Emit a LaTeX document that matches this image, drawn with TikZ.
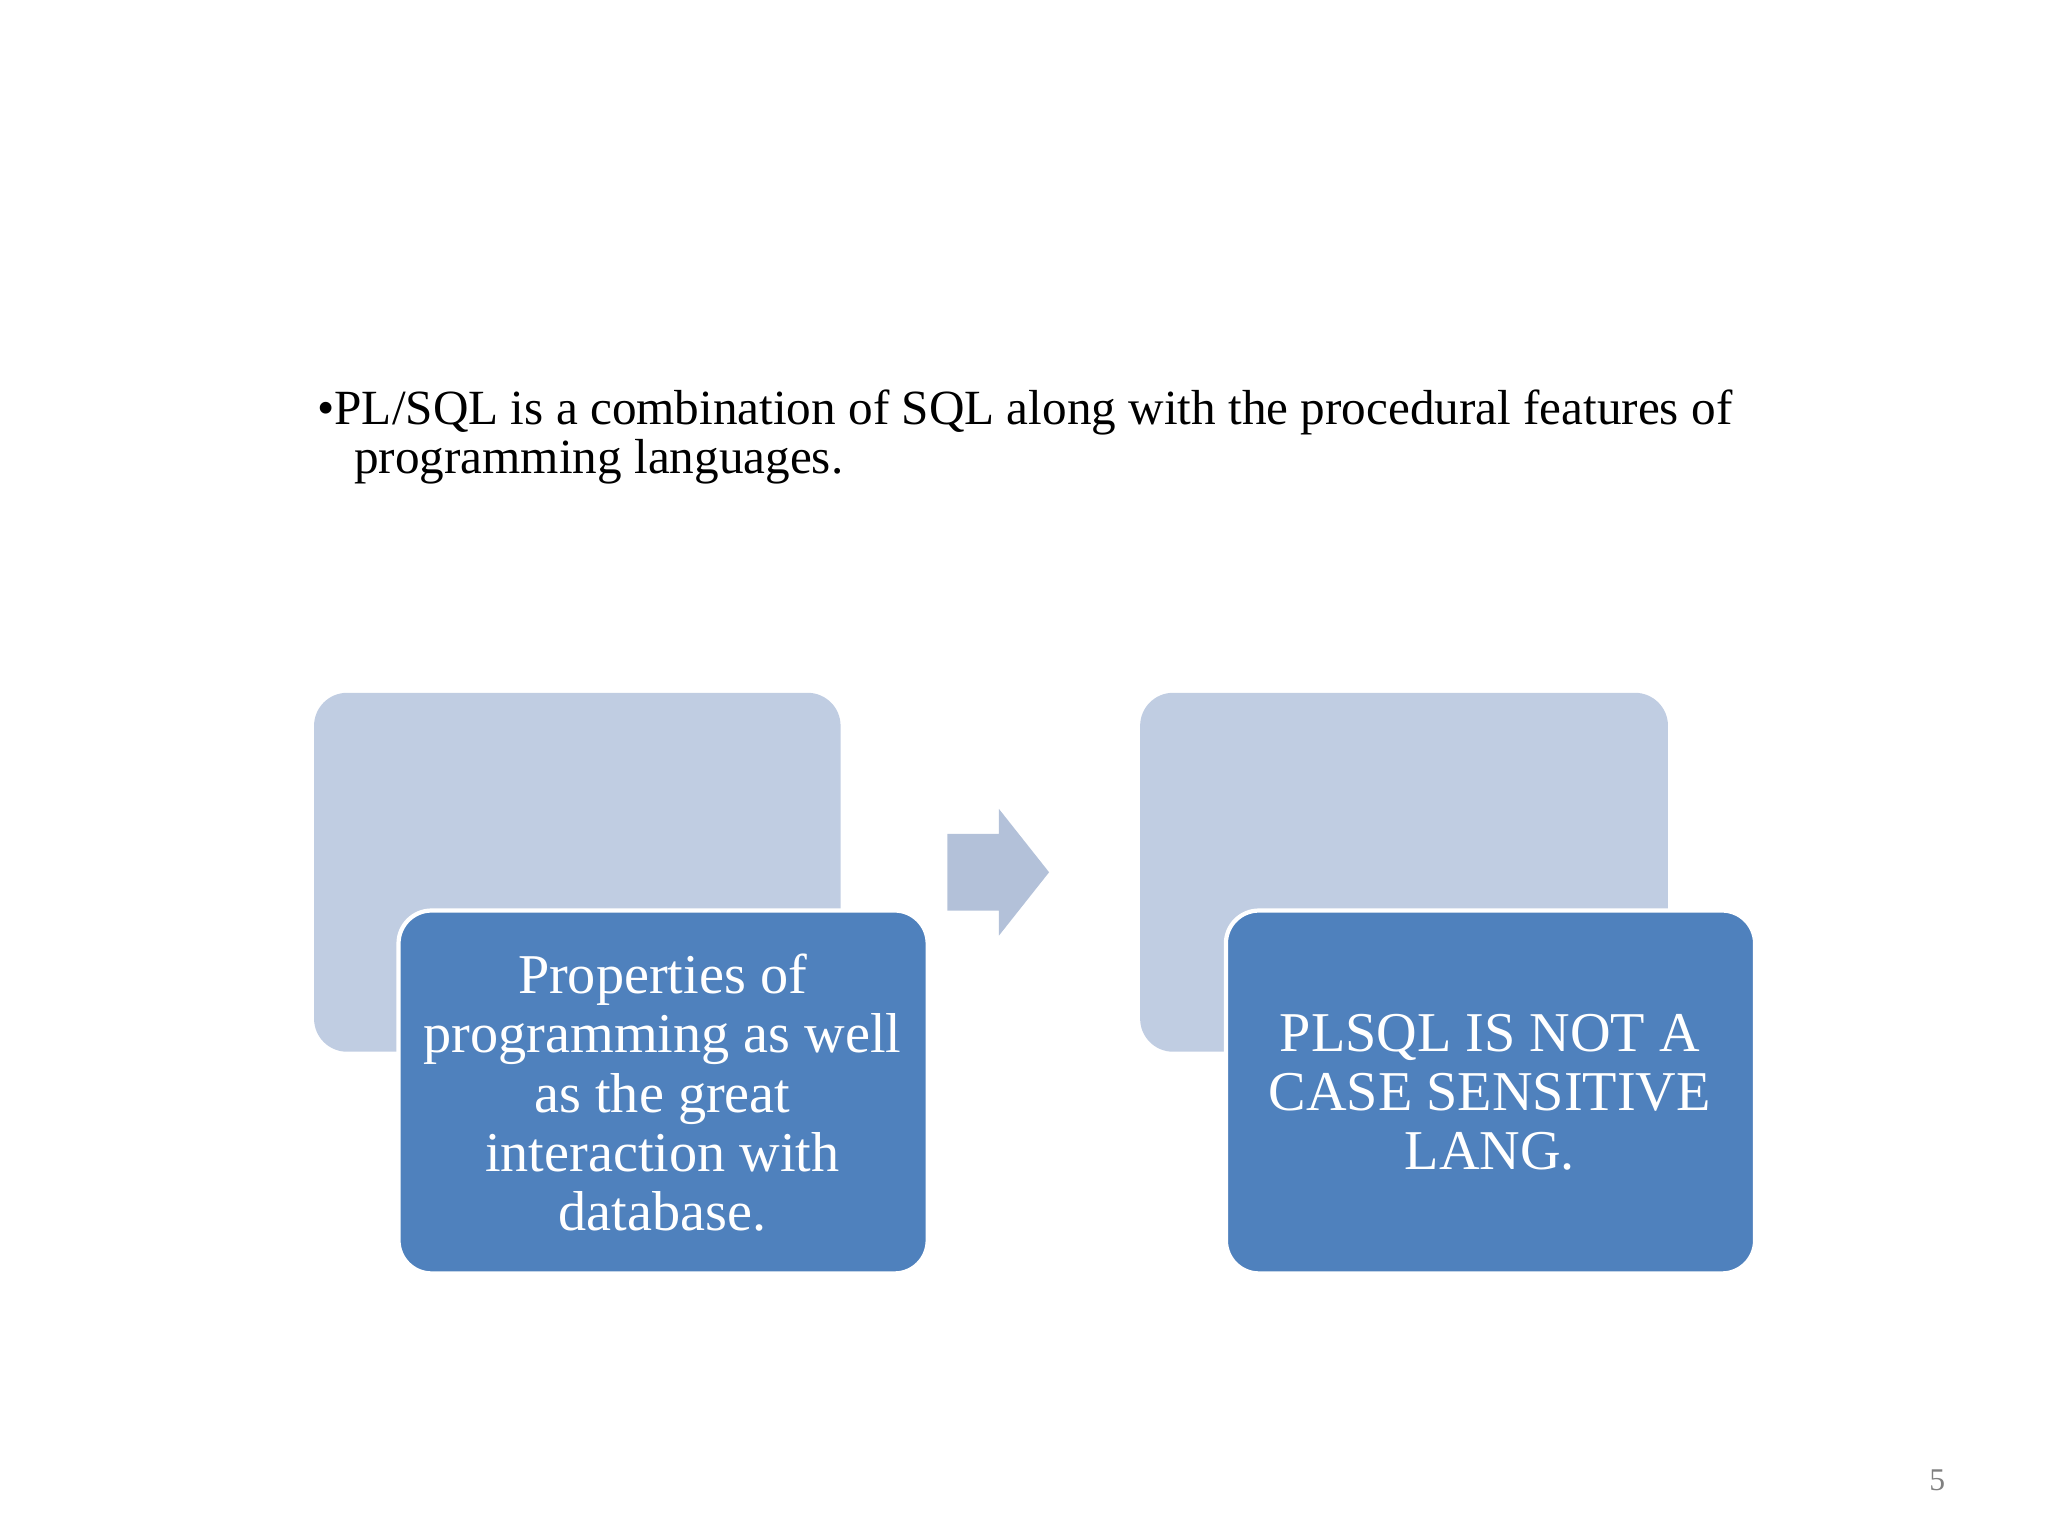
\documentclass[tikz,border=0pt]{standalone}
\usepackage{fontspec}
\setmainfont{Liberation Serif}
\definecolor{backbox}{HTML}{C0CDE2}
\definecolor{frontbox}{HTML}{4F81BD}
\definecolor{arrowc}{HTML}{B3C1D9}
\begin{document}
\begin{tikzpicture}[x=0.013196cm,y=-0.013196cm,
  back/.style={fill=backbox,draw=none,rounded corners=0.33cm},
  front/.style={fill=frontbox,draw=white,line width=1.2pt,rounded corners=0.33cm},
  ftext/.style={text=white,align=center,font=\fontsize{16}{16.8}\selectfont}]
\useasboundingbox (0,0) rectangle (1552,1164);
\node[anchor=west,align=left,font=\fontsize{14}{13.8}\selectfont,inner sep=0] (t) at (240,331)
  {\textbullet PL/SQL is a combination of SQL along with the procedural features of\\
  \hspace*{0.75em}programming languages.};
\path[back] (238,525) rectangle (637,797);
\path[back] (864,525) rectangle (1264,797);
\path[front] (302,690) rectangle (703,965);
\path[front] (929,690) rectangle (1330,965);
\node[ftext] (a) at (502,828) {Properties of\\programming as well\\as the great\\interaction with\\database.};
\node[ftext] (b) at (1129,828) {PLSQL IS NOT A\\CASE SENSITIVE\\LANG.};
\fill[arrowc] (718,632) -- (757,632) -- (757,613) -- (795,661) -- (757,709) -- (757,690) -- (718,690) -- cycle;
\node[text=gray,font=\fontsize{9}{10}\selectfont] (p) at (1468,1122) {5};
\end{tikzpicture}
\end{document}
